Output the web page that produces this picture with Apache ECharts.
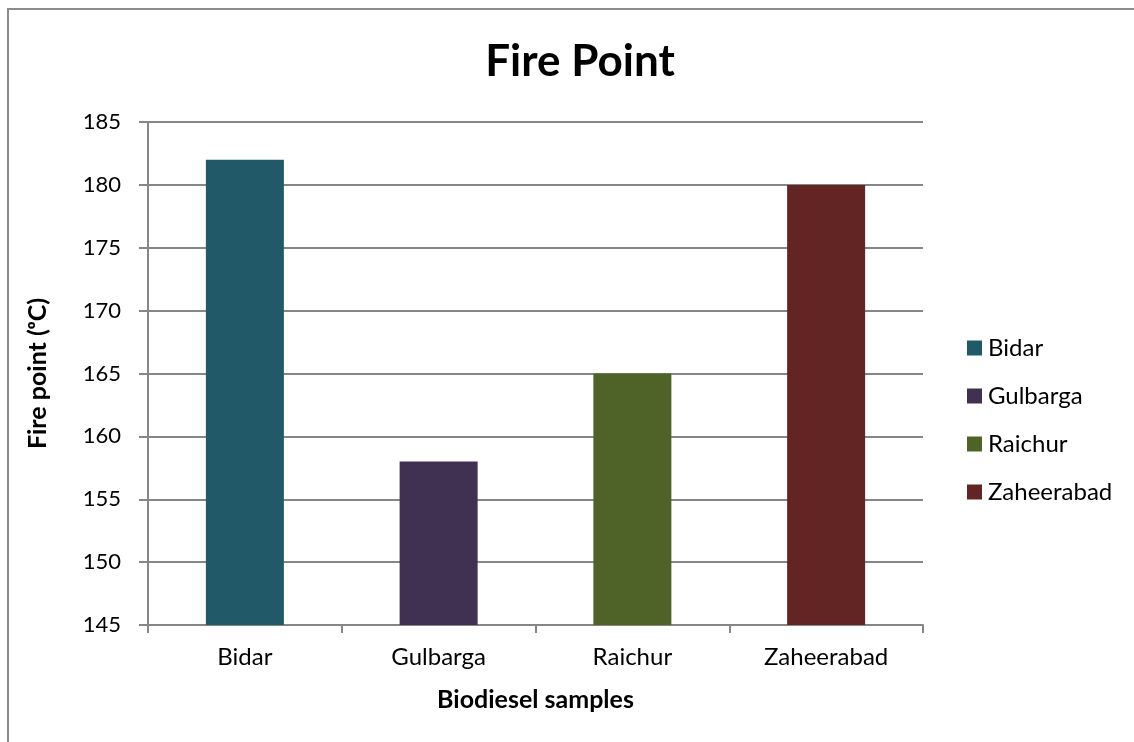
<!DOCTYPE html>
<html>
<head>
<meta charset="utf-8">
<script src="https://cdn.jsdelivr.net/npm/echarts@6/dist/echarts.min.js"></script>
<style>
  html, body { margin: 0; padding: 0; background: #fff; }
  #chart { width: 1134px; height: 742px; }
</style>
</head>
<body>
<div id="chart"></div>
<script>
const categories = ['Bidar', 'Gulbarga', 'Raichur', 'Zaheerabad']
const firePoint = [182, 158, 165, 180]
const barColors = ['#215968', '#403152', '#4F6228', '#632523']
const yTicks = { min: 145, max: 185, interval: 5 }

const FONT = 'Lato, "Open Sans", sans-serif'
const GREY = '#868686'

const chart = echarts.init(document.getElementById('chart'))

// one series per sample so each gets its own legend entry; stacking keeps bars centred
const series = categories.map((name, i) => ({
    name,
    type: 'bar',
    stack: 'all',
    barWidth: 78,
    itemStyle: { color: barColors[i] },
    data: categories.map((_, j) => (j === i ? firePoint[i] : '-'))
}))

chart.setOption({
    animation: false,
    textStyle: { fontFamily: FONT },
    graphic: [{
        type: 'rect',
        shape: { x: 8, y: 9, width: 1140, height: 745 },
        style: { fill: 'none', stroke: '#8c8c8c', lineWidth: 2 },
        silent: true
    }],
    title: {
        text: 'Fire Point',
        left: 575,
        top: 35,
        textAlign: 'center',
        textStyle: { fontFamily: FONT, fontSize: 44, fontWeight: 'bold', color: '#000' }
    },
    legend: {
        orient: 'vertical',
        left: 962,
        top: 331,
        itemWidth: 15,
        itemHeight: 15,
        itemGap: 24,
        icon: 'rect',
        textStyle: { fontFamily: FONT, fontSize: 24, color: '#000', padding: [0, 0, 0, 1] },
        data: categories
    },
    grid: { left: 148, right: 211, top: 122, bottom: 117 },
    xAxis: {
        type: 'category',
        data: categories,
        name: 'Biodiesel samples',
        nameLocation: 'middle',
        nameGap: 62,
        nameTextStyle: { fontFamily: FONT, fontSize: 25, fontWeight: 'bold', color: '#000' },
        axisLine: { lineStyle: { color: GREY, width: 2 } },
        axisTick: { show: true, length: 8, lineStyle: { color: GREY, width: 2 } },
        axisLabel: { fontFamily: FONT, fontSize: 24, color: '#000', margin: 20 }
    },
    yAxis: {
        type: 'value',
        min: yTicks.min,
        max: yTicks.max,
        interval: yTicks.interval,
        name: 'Fire point (ᵒC)',
        nameLocation: 'middle',
        nameGap: 98,
        nameTextStyle: { fontFamily: FONT, fontSize: 25, fontWeight: 'bold', color: '#000' },
        axisLine: { show: true, lineStyle: { color: GREY, width: 2 } },
        axisTick: { show: true, length: 9, lineStyle: { color: GREY, width: 2 } },
        axisLabel: { fontFamily: FONT, fontSize: 22, color: '#000', margin: 27 },
        splitLine: { lineStyle: { color: GREY, width: 2 } }
    },
    series
})
</script>
</body>
</html>
